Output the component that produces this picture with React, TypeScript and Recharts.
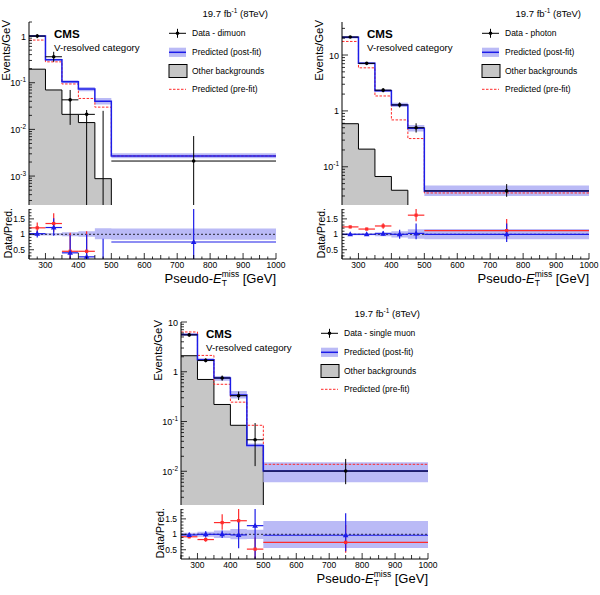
import React from 'react';
import { ComposedChart, Area, Line, Scatter, XAxis, YAxis, ReferenceLine } from 'recharts';

const FONT = '"Liberation Sans", Arial, Helvetica, sans-serif';
const BLUE = '#1c1ce8';
const BAND = '#babaf6';
const RED = '#ff2b2b';
const GRAY = '#c6c6c6';

// pseudo-MET binning (GeV)
const binEdges = [250, 300, 350, 400, 450, 500, 1000];
const binCenters = [275, 325, 375, 425, 475, 750];
const binHalfWidths = [25, 25, 25, 25, 25, 250];
const xLabelTicks = [300, 400, 500, 600, 700, 800, 900, 1000];
const ratioLabelTicks = [0.5, 1, 1.5];
const ratioDomain: [number, number] = [0.2, 1.82];

// dimuon control region, events/GeV
const dimuonDomain: [number, number] = [2.4e-4, 2.0];
const dimuonPost = [1.0, 0.31, 0.105, 0.073, 0.04, 0.0027];
const dimuonPostLo = [0.96, 0.295, 0.098, 0.066, 0.034, 0.0024];
const dimuonPostHi = [1.04, 0.325, 0.113, 0.081, 0.047, 0.0031];
const dimuonPre = [0.82, 0.28, 0.094, 0.046, 0.03, 0.0027];
const dimuonOther = [0.195, 0.07, 0.021, 0.014, 0.00088, 0];
const dimuonData = [1.0, 0.36, 0.043, 0.021, 0, 0.0021];
const dimuonDataLo = [0.9, 0.28, 0.0125, 0, 0, 0];
const dimuonDataHi = [1.1, 0.46, 0.07, 0.026, 0.025, 0.0072];
const dimuonRatioPost = [1.02, 1.22, 0.4, 0.27, null, 0.75];
const dimuonRatioPostLo = [0.9, 0.95, 0, 0, 0, 0];
const dimuonRatioPostHi = [1.12, 1.52, 0.97, 1.0, 0.86, 2];
// last bin: pre-fit equals post-fit, so the red point sits under the blue one
const dimuonRatioPre = [1.21, 1.35, 0.45, 0.45, null, null];
const dimuonRatioPreLo = [1.06, 1.08, 0.15, 0.1, 0, 0];
const dimuonRatioPreHi = [1.38, 1.68, 1.05, 1.1, 0, 0];
const dimuonBandLo = [0.96, 0.96, 0.94, 0.92, 0.84, 0.82];
const dimuonBandHi = [1.04, 1.04, 1.07, 1.1, 1.2, 1.19];

// photon control region
const photonDomain: [number, number] = [0.0207, 39];
const photonPost = [20.7, 7.1, 2.3, 1.28, 0.49, 0.037];
const photonPostLo = [19.8, 6.8, 2.2, 1.18, 0.43, 0.03];
const photonPostHi = [21.6, 7.4, 2.45, 1.4, 0.56, 0.046];
const photonPre = [17.5, 5.9, 1.85, 0.69, 0.32, 0.034];
const photonOther = [0.59, 0.207, 0.067, 0.038, 0, 0];
const photonData = [21, 7.1, 2.35, 1.28, 0.5, 0.037];
const photonDataLo = [20.3, 6.8, 2.15, 1.15, 0.41, 0.029];
const photonDataHi = [21.7, 7.4, 2.55, 1.42, 0.6, 0.049];
const photonRatioPost = [1.0, 1.0, 1.02, 1.0, 1.03, 1.0];
const photonRatioPostLo = [0.97, 0.97, 0.95, 0.86, 0.84, 0.75];
const photonRatioPostHi = [1.03, 1.03, 1.1, 1.15, 1.35, 1.35];
const photonRatioPre = [1.24, 1.17, 1.27, null, 1.62, 1.12];
const photonRatioPreLo = [1.2, 1.13, 1.18, 0, 1.42, 0.85];
const photonRatioPreHi = [1.28, 1.21, 1.36, 0, 1.9, 1.5];
const photonBandLo = [0.97, 0.97, 0.94, 0.9, 0.86, 0.84];
const photonBandHi = [1.03, 1.03, 1.07, 1.1, 1.16, 1.17];

// single muon control region
const muonDomain: [number, number] = [0.0021, 10];
const muonPost = [5.6, 1.74, 0.75, 0.34, 0.033, 0.0101];
const muonPostLo = [5.3, 1.62, 0.66, 0.29, 0.03, 0.006];
const muonPostHi = [5.9, 1.86, 0.82, 0.41, 0.036, 0.0151];
const muonPre = [6.3, 2.13, 0.56, 0.245, 0.084, 0.0138];
const muonOther = [2.1, 0.7, 0.22, 0.084, 0.033, 0];
const muonData = [5.5, 1.69, 0.75, 0.33, 0.043, 0.0101];
const muonDataLo = [5.1, 1.55, 0.66, 0.27, 0.0127, 0.0055];
const muonDataHi = [5.9, 1.85, 0.84, 0.4, 0.093, 0.0177];
const muonRatioPost = [0.98, 1.0, 1.0, 0.98, 1.28, 0.97];
const muonRatioPostLo = [0.93, 0.9, 0.88, 0.55, 0, 0.45];
const muonRatioPostHi = [1.05, 1.1, 1.12, 1.45, 2, 1.68];
const muonRatioPre = [0.92, 0.83, 1.38, 1.44, 0.52, 0.74];
const muonRatioPreLo = [0.87, 0.76, 1.15, 1.0, 0.15, 0.4];
const muonRatioPreHi = [0.97, 0.9, 1.65, 2, 0.9, 1.3];
const muonBandLo = [0.95, 0.92, 0.88, 0.84, 0.85, 0.56];
const muonBandHi = [1.05, 1.08, 1.12, 1.17, 1.15, 1.43];

// pad geometry, relative to the top-left panel
const PLOT_L = 29;
const PLOT_W = 247;
const MAIN_T = 22;
const MAIN_H = 183;
const RATIO_T = 209;
const RATIO_H = 50;
const AXIS_W = 40;
const PAD_TOP = 6;
const PAD_RIGHT = 14;
const FLOOR = 1e-7;

const X_TICKS: number[] = [];
for (let v = 250; v <= 1000; v += 25) X_TICKS.push(v);

const RATIO_TICKS: number[] = [];
for (let v = 0.3; v <= 1.81; v += 0.1) RATIO_TICKS.push(Number(v.toFixed(1)));

function logTicks(lo: number, hi: number) {
  const t: number[] = [];
  for (let e = Math.floor(Math.log10(lo)); e <= Math.ceil(Math.log10(hi)); e++) {
    for (let k = 1; k <= 9; k++) {
      const v = Number((k * Math.pow(10, e)).toPrecision(6));
      if (v >= lo && v <= hi) t.push(v);
    }
  }
  return t;
}

const isDecade = (v: number) => Math.abs(Math.log10(v) - Math.round(Math.log10(v))) < 1e-6;
const xLen = (v: number) => (v % 100 === 0 ? 6 : v % 50 === 0 ? 4 : 2.5);

function logLabel(v: number) {
  const e = Math.round(Math.log10(v));
  if (e === 0) return '1';
  if (e === 1) return '10';
  return (
    <>
      10<tspan dy={-4} fontSize={6.5}>{e}</tspan>
    </>
  );
}

// ticks are drawn pointing into the frame, ROOT style
const bottomTick = (labels: boolean) => (p: any) => {
  const v = p.payload.value;
  return (
    <g>
      <line x1={p.x} x2={p.x} y1={p.y} y2={p.y - xLen(v)} stroke="#000" strokeWidth={0.8} />
      {labels && xLabelTicks.includes(v) && (
        <text x={p.x} y={p.y + 8.5} textAnchor="middle" fontSize={8.5} fontFamily={FONT} fill="#000">
          {v}
        </text>
      )}
    </g>
  );
};

const topTick = (p: any) => (
  <line x1={p.x} x2={p.x} y1={p.y} y2={p.y + xLen(p.payload.value)} stroke="#000" strokeWidth={0.8} />
);

const leftLogTick = (p: any) => {
  const v = p.payload.value;
  const major = isDecade(v);
  return (
    <g>
      <line x1={p.x} x2={p.x + (major ? 6 : 3)} y1={p.y} y2={p.y} stroke="#000" strokeWidth={0.8} />
      {major && (
        <text x={p.x - 3} y={p.y + 3.5} textAnchor="end" fontSize={9} fontFamily={FONT} fill="#000">
          {logLabel(v)}
        </text>
      )}
    </g>
  );
};

const rightLogTick = (p: any) => {
  const major = isDecade(p.payload.value);
  return <line x1={p.x} x2={p.x - (major ? 6 : 3)} y1={p.y} y2={p.y} stroke="#000" strokeWidth={0.8} />;
};

const leftRatioTick = (p: any) => {
  const v = p.payload.value;
  const major = ratioLabelTicks.includes(v);
  return (
    <g>
      <line x1={p.x} x2={p.x + (major ? 5 : 2.5)} y1={p.y} y2={p.y} stroke="#000" strokeWidth={0.8} />
      {major && (
        <text x={p.x - 4} y={p.y + 3} textAnchor="end" fontSize={8.5} fontFamily={FONT} fill="#000">
          {v}
        </text>
      )}
    </g>
  );
};

const rightRatioTick = (p: any) => {
  const major = ratioLabelTicks.includes(p.payload.value);
  return <line x1={p.x} x2={p.x - (major ? 5 : 2.5)} y1={p.y} y2={p.y} stroke="#000" strokeWidth={0.8} />;
};

const dot = (color: string, r: number) => (p: any) => <circle cx={p.cx} cy={p.cy} r={r} fill={color} />;
const triangle = (color: string) => (p: any) => (
  <polygon points={`${p.cx},${p.cy - 3} ${p.cx - 2.8},${p.cy + 2} ${p.cx + 2.8},${p.cy + 2}`} fill={color} />
);
const square = (color: string) => (p: any) => <rect x={p.cx - 1.6} y={p.cy - 1.6} width={3.2} height={3.2} fill={color} />;

// vertical (stat) and horizontal (bin width) error segments for each point
function errorSegments(
  id: string,
  vals: (number | null)[],
  los: number[],
  his: number[],
  color: string,
  floor: number,
  width: number
) {
  const out: React.ReactElement[] = [];
  binCenters.forEach((x, i) => {
    const v = vals[i];
    if (his[i] > 0) {
      out.push(
        <ReferenceLine
          key={`${id}-v${i}`}
          segment={[{ x, y: Math.max(los[i], floor) }, { x, y: his[i] }]}
          stroke={color}
          strokeWidth={width}
          ifOverflow="hidden"
        />
      );
    }
    if (v != null && v > 0) {
      out.push(
        <ReferenceLine
          key={`${id}-h${i}`}
          segment={[{ x: x - binHalfWidths[i], y: v }, { x: x + binHalfWidths[i], y: v }]}
          stroke={color}
          strokeWidth={width}
          ifOverflow="hidden"
        />
      );
    }
  });
  return out;
}

type Region = {
  label: string;
  domain: [number, number];
  post: number[];
  postLo: number[];
  postHi: number[];
  pre: number[];
  other: number[];
  data: number[];
  dataLo: number[];
  dataHi: number[];
  rPost: (number | null)[];
  rPostLo: number[];
  rPostHi: number[];
  rPre: (number | null)[];
  rPreLo: number[];
  rPreHi: number[];
  bandLo: number[];
  bandHi: number[];
};

const regions: Region[] = [
  {
    label: 'Data - dimuon', domain: dimuonDomain,
    post: dimuonPost, postLo: dimuonPostLo, postHi: dimuonPostHi, pre: dimuonPre, other: dimuonOther,
    data: dimuonData, dataLo: dimuonDataLo, dataHi: dimuonDataHi,
    rPost: dimuonRatioPost, rPostLo: dimuonRatioPostLo, rPostHi: dimuonRatioPostHi,
    rPre: dimuonRatioPre, rPreLo: dimuonRatioPreLo, rPreHi: dimuonRatioPreHi,
    bandLo: dimuonBandLo, bandHi: dimuonBandHi,
  },
  {
    label: 'Data - photon', domain: photonDomain,
    post: photonPost, postLo: photonPostLo, postHi: photonPostHi, pre: photonPre, other: photonOther,
    data: photonData, dataLo: photonDataLo, dataHi: photonDataHi,
    rPost: photonRatioPost, rPostLo: photonRatioPostLo, rPostHi: photonRatioPostHi,
    rPre: photonRatioPre, rPreLo: photonRatioPreLo, rPreHi: photonRatioPreHi,
    bandLo: photonBandLo, bandHi: photonBandHi,
  },
  {
    label: 'Data - single muon', domain: muonDomain,
    post: muonPost, postLo: muonPostLo, postHi: muonPostHi, pre: muonPre, other: muonOther,
    data: muonData, dataLo: muonDataLo, dataHi: muonDataHi,
    rPost: muonRatioPost, rPostLo: muonRatioPostLo, rPostHi: muonRatioPostHi,
    rPre: muonRatioPre, rPreLo: muonRatioPreLo, rPreHi: muonRatioPreHi,
    bandLo: muonBandLo, bandHi: muonBandHi,
  },
];

const offsets = [
  { ox: 0, oy: 0 },
  { ox: 313, oy: 0 },
  { ox: 152, oy: 300 },
];

function Panel({ r, ox, oy }: { r: Region; ox: number; oy: number }) {
  const last = binCenters.length - 1;
  const rows = binEdges.map((x, i) => {
    const k = Math.min(i, last);
    return {
      x,
      post: r.post[k],
      pre: r.pre[k],
      band: [r.postLo[k], r.postHi[k]],
      other: [FLOOR, r.other[k] > 0 ? r.other[k] : FLOOR],
    };
  });
  const ratioRows = binEdges.map((x, i) => {
    const k = Math.min(i, last);
    return { x, band: [r.bandLo[k], r.bandHi[k]] };
  });
  const dataPts = binCenters.map((x, i) => ({ x, y: r.data[i] })).filter((p) => p.y > 0);
  const postPts = binCenters.map((x, i) => ({ x, y: r.rPost[i] })).filter((p) => p.y != null);
  const prePts = binCenters.map((x, i) => ({ x, y: r.rPre[i] })).filter((p) => p.y != null);
  const yTicks = logTicks(r.domain[0], r.domain[1]);
  const left = ox + PLOT_L - AXIS_W;
  const width = AXIS_W + PLOT_W + PAD_RIGHT;

  const xAxes = (labels: boolean, h: number) => [
    <XAxis key="xb" dataKey="x" type="number" domain={[250, 1000]} ticks={X_TICKS} interval={0} allowDataOverflow
      height={h} tickSize={0} tickMargin={0} tickLine={false} axisLine={{ stroke: '#000' }} tick={bottomTick(labels)} />,
    <XAxis key="xt" xAxisId="top" orientation="top" dataKey="x" type="number" domain={[250, 1000]} ticks={X_TICKS}
      interval={0} allowDataOverflow height={0} tickSize={0} tickMargin={0} tickLine={false}
      axisLine={{ stroke: '#000' }} tick={topTick} />,
  ];

  return (
    <>
      <div style={{ position: 'absolute', left, top: oy + MAIN_T - PAD_TOP }}>
        <ComposedChart width={width} height={MAIN_H + PAD_TOP + 1} data={rows}
          margin={{ top: PAD_TOP, right: PAD_RIGHT, bottom: 1, left: 0 }}>
          {xAxes(false, 0)}
          <YAxis scale="log" type="number" domain={r.domain} ticks={yTicks} interval={0} allowDataOverflow
            width={AXIS_W} tickSize={0} tickMargin={0} tickLine={false} axisLine={{ stroke: '#000' }} tick={leftLogTick} />
          <YAxis yAxisId="right" orientation="right" scale="log" type="number" domain={r.domain} ticks={yTicks}
            interval={0} allowDataOverflow width={0} tickSize={0} tickMargin={0} tickLine={false}
            axisLine={{ stroke: '#000' }} tick={rightLogTick} />
          <Area dataKey="other" type="stepAfter" fill={GRAY} fillOpacity={1} stroke="#000" strokeWidth={1}
            isAnimationActive={false} />
          <Area dataKey="band" type="stepAfter" fill={BAND} fillOpacity={1} stroke="none" isAnimationActive={false} />
          <Line dataKey="pre" type="stepAfter" stroke={RED} strokeWidth={1} strokeDasharray="2.5 1.5" dot={false}
            activeDot={false} isAnimationActive={false} />
          <Line dataKey="post" type="stepAfter" stroke={BLUE} strokeWidth={1.5} dot={false} activeDot={false}
            isAnimationActive={false} />
          {errorSegments('d', r.data, r.dataLo, r.dataHi, '#000', FLOOR, 1)}
          <Scatter data={dataPts} dataKey="y" shape={dot('#000', 1.8)} isAnimationActive={false} />
        </ComposedChart>
      </div>
      <div style={{ position: 'absolute', left, top: oy + RATIO_T - PAD_TOP }}>
        <ComposedChart width={width} height={RATIO_H + PAD_TOP + 1 + 16} data={ratioRows}
          margin={{ top: PAD_TOP, right: PAD_RIGHT, bottom: 1, left: 0 }}>
          {xAxes(true, 16)}
          <YAxis type="number" domain={ratioDomain} ticks={RATIO_TICKS} interval={0} allowDataOverflow width={AXIS_W}
            tickSize={0} tickMargin={0} tickLine={false} axisLine={{ stroke: '#000' }} tick={leftRatioTick} />
          <YAxis yAxisId="right" orientation="right" type="number" domain={ratioDomain} ticks={RATIO_TICKS}
            interval={0} allowDataOverflow width={0} tickSize={0} tickMargin={0} tickLine={false}
            axisLine={{ stroke: '#000' }} tick={rightRatioTick} />
          <Area dataKey="band" type="stepAfter" fill={BAND} fillOpacity={1} stroke="none" isAnimationActive={false} />
          <ReferenceLine y={1} stroke="#000" strokeWidth={0.8} strokeDasharray="2 2" />
          {errorSegments('pre', r.rPre, r.rPreLo, r.rPreHi, RED, 0, 1.2)}
          <Scatter data={prePts} dataKey="y" shape={square(RED)} isAnimationActive={false} />
          {errorSegments('post', r.rPost, r.rPostLo, r.rPostHi, BLUE, 0, 1.2)}
          <Scatter data={postPts} dataKey="y" shape={triangle(BLUE)} isAnimationActive={false} />
        </ComposedChart>
      </div>
    </>
  );
}

function PanelText({ r, ox, oy }: { r: Region; ox: number; oy: number }) {
  const lx = ox + 169;
  const tx = ox + 192;
  const rowY = [33.3, 52.3, 71, 89.3].map((y) => oy + y);
  return (
    <g fontFamily={FONT} fill="#000">
      <text x={ox + 268} y={oy + 16.5} textAnchor="end" fontSize={9.5}>
        19.7 fb<tspan dy={-3.5} fontSize={6.5}>-1</tspan>
        <tspan dy={3.5}>{'\u00a0(8TeV)'}</tspan>
      </text>
      <text x={ox + 54} y={oy + 38.3} fontSize={11.6} fontWeight="bold">CMS</text>
      <text x={ox + 54} y={oy + 50.5} fontSize={9.7}>V-resolved category</text>

      <line x1={lx} x2={lx + 17} y1={rowY[0]} y2={rowY[0]} stroke="#000" strokeWidth={1} />
      <line x1={lx + 8.5} x2={lx + 8.5} y1={rowY[0] - 4.5} y2={rowY[0] + 4.5} stroke="#000" strokeWidth={1} />
      <circle cx={lx + 8.5} cy={rowY[0]} r={1.8} fill="#000" />
      <text x={tx} y={rowY[0] + 3} fontSize={8.5}>{r.label}</text>

      <rect x={lx} y={rowY[1] - 4.6} width={17} height={9.2} fill={BAND} />
      <line x1={lx} x2={lx + 17} y1={rowY[1]} y2={rowY[1]} stroke={BLUE} strokeWidth={1.5} />
      <text x={tx} y={rowY[1] + 3} fontSize={8.5}>Predicted (post-fit)</text>

      <rect x={lx} y={rowY[2] - 6.5} width={18} height={13} fill={GRAY} stroke="#000" strokeWidth={1} />
      <text x={tx} y={rowY[2] + 3} fontSize={8.5}>Other backgrounds</text>

      <line x1={lx} x2={lx + 17} y1={rowY[3]} y2={rowY[3]} stroke={RED} strokeWidth={1} strokeDasharray="2.5 1.5" />
      <text x={tx} y={rowY[3] + 3} fontSize={8.5}>Predicted (pre-fit)</text>

      <text transform={`translate(${ox + 9.8},${oy + 20}) rotate(-90)`} textAnchor="end" fontSize={11.4}>
        Events/GeV
      </text>
      <text transform={`translate(${ox + 11.5},${oy + 208}) rotate(-90)`} textAnchor="end" fontSize={10.5}>
        Data/Pred.
      </text>
      <text x={ox + 276} y={oy + 283} textAnchor="end" fontSize={13}>
        Pseudo-<tspan fontStyle="italic">E</tspan>
        <tspan fontSize={8.5} dy={3}>T</tspan>
        <tspan fontSize={8.5} dx={-5.2} dy={-9}>miss</tspan>
        <tspan dy={6}>{'\u00a0[GeV]'}</tspan>
      </text>
    </g>
  );
}

export default function App() {
  return (
    <div style={{ position: 'absolute', left: 0, top: 0, width: 600, height: 595, background: '#fff', overflow: 'hidden' }}>
      {regions.map((r, i) => (
        <Panel key={r.label} r={r} ox={offsets[i].ox} oy={offsets[i].oy} />
      ))}
      <svg width={600} height={595} style={{ position: 'absolute', left: 0, top: 0, pointerEvents: 'none' }}>
        {regions.map((r, i) => (
          <PanelText key={r.label} r={r} ox={offsets[i].ox} oy={offsets[i].oy} />
        ))}
      </svg>
    </div>
  );
}
